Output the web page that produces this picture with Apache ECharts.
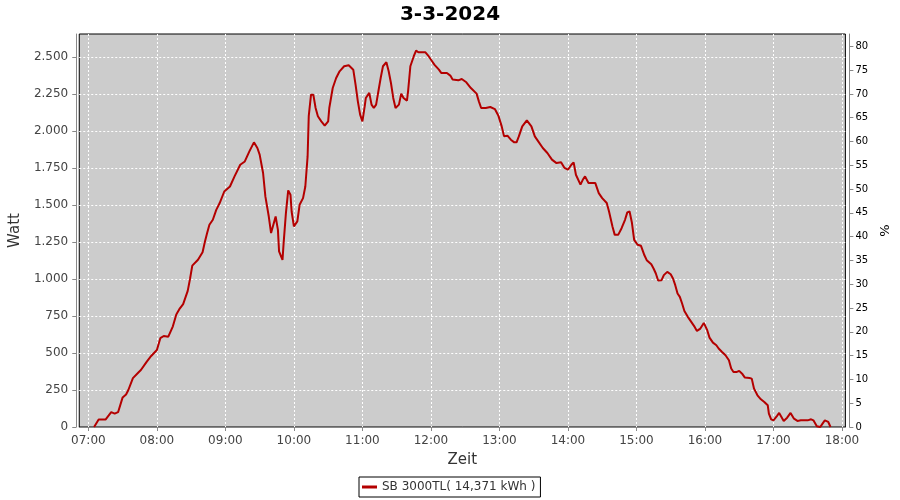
<!DOCTYPE html>
<html>
<head>
<meta charset="utf-8">
<script src="https://cdn.jsdelivr.net/npm/echarts@6/dist/echarts.min.js"></script>
<style>html,body{margin:0;padding:0;background:#fff}#c{width:900px;height:500px}</style>
</head>
<body>
<div id="c"></div>
<script>
const title = '3-3-2024';
const seriesName = 'SB 3000TL( 14,371 kWh )';
const xTickLabels = ['07:00','08:00','09:00','10:00','11:00','12:00','13:00','14:00','15:00','16:00','17:00','18:00'];
const leftTicks = [0,250,500,750,1000,1250,1500,1750,2000,2250,2500];
const rightTicks = [0,5,10,15,20,25,30,35,40,45,50,55,60,65,70,75,80];
const times = ['07:05','07:09','07:15','07:20','07:23','07:26','07:30','07:33','07:35','07:39','07:44','07:46','07:51','07:55','08:00','08:03','08:06','08:10','08:14','08:17','08:20','08:23','08:27','08:29','08:31','08:36','08:40','08:42','08:44','08:46','08:49','08:52','08:55','08:59','09:04','09:08','09:13','09:17','09:21','09:25','09:28','09:30','09:33','09:35','09:38','09:40','09:42','09:44','09:46','09:47','09:50','09:51','09:53','09:55','09:57','09:58','10:00','10:03','10:05','10:08','10:10','10:12','10:13','10:15','10:17','10:19','10:21','10:24','10:27','10:30','10:31','10:34','10:37','10:40','10:44','10:48','10:52','10:54','10:56','10:58','11:00','11:02','11:03','11:06','11:08','11:10','11:12','11:14','11:16','11:18','11:21','11:23','11:25','11:27','11:29','11:32','11:34','11:36','11:39','11:40','11:42','11:45','11:47','11:49','11:52','11:55','11:58','12:01','12:03','12:07','12:09','12:14','12:17','12:19','12:24','12:27','12:31','12:35','12:40','12:42','12:44','12:48','12:52','12:56','12:59','13:02','13:04','13:07','13:10','13:13','13:15','13:17','13:20','13:24','13:28','13:31','13:34','13:38','13:42','13:46','13:50','13:54','13:57','14:00','14:03','14:05','14:07','14:11','14:13','14:15','14:18','14:24','14:27','14:30','14:34','14:36','14:39','14:41','14:44','14:47','14:50','14:52','14:54','14:56','14:58','15:01','15:04','15:07','15:09','15:13','15:15','15:17','15:19','15:22','15:24','15:27','15:30','15:32','15:34','15:36','15:38','15:40','15:42','15:45','15:48','15:51','15:53','15:56','15:59','16:02','16:04','16:07','16:10','16:12','16:15','16:18','16:21','16:23','16:25','16:28','16:30','16:33','16:35','16:39','16:41','16:43','16:46','16:49','16:52','16:55','16:56','16:58','17:00','17:03','17:05','17:07','17:09','17:12','17:15','17:18','17:21','17:24','17:30','17:33','17:35','17:38','17:41','17:43','17:45','17:48','17:50'];
const watts = [0,50,50,100,90,100,200,220,250,330,370,385,440,480,520,600,615,610,680,760,800,830,920,1000,1090,1130,1180,1250,1310,1366,1400,1467,1513,1591,1625,1693,1772,1794,1862,1923,1885,1840,1716,1558,1422,1310,1366,1422,1332,1186,1129,1242,1445,1598,1569,1456,1355,1389,1501,1546,1625,1828,2100,2245,2245,2155,2099,2065,2036,2065,2155,2290,2358,2403,2437,2444,2414,2313,2200,2110,2065,2166,2223,2257,2178,2155,2178,2268,2358,2437,2464,2403,2324,2223,2155,2178,2252,2223,2205,2268,2437,2505,2543,2532,2532,2532,2505,2471,2448,2414,2392,2392,2374,2347,2342,2351,2329,2290,2252,2200,2155,2155,2162,2148,2105,2031,1965,1968,1941,1923,1923,1963,2031,2072,2031,1963,1930,1885,1851,1806,1783,1788,1750,1738,1772,1788,1704,1637,1670,1693,1648,1648,1580,1546,1513,1456,1355,1298,1298,1343,1400,1450,1456,1382,1264,1231,1224,1160,1127,1100,1071,1037,990,992,1026,1048,1032,1003,958,902,879,834,784,744,710,676,649,665,703,654,604,570,552,530,507,485,451,395,372,372,379,356,334,331,327,259,214,187,169,147,90,52,45,74,95,68,41,63,95,56,41,45,45,52,45,5,0,23,45,34,0];

const toMin = s => { const p = s.split(':'); return (+p[0]) * 60 + (+p[1]); };
const fmtTime = v => { const h = Math.floor(v / 60), m = Math.round(v % 60); return String(h).padStart(2,'0') + ':' + String(m).padStart(2,'0'); };
const fmtThousands = v => String(v).replace(/\B(?=(\d{3})+(?!\d))/g, '.');
const FONT = 'DejaVu Sans';

const chart = echarts.init(document.getElementById('c'), null, {renderer: 'canvas'});
chart.setOption({
  animation: false,
  backgroundColor: '#ffffff',
  textStyle: {fontFamily: FONT},
  title: {
    text: title, left: 'center', top: 0,
    textStyle: {fontFamily: FONT, fontSize: 20, fontWeight: 'bold', color: '#000'}
  },
  legend: {
    left: 359, top: 477,
    padding: [4, 5, 4, 3],
    borderColor: '#000', borderWidth: 1, borderRadius: 0,
    icon: 'rect', itemWidth: 15, itemHeight: 3, itemGap: 5,
    textStyle: {fontFamily: FONT, fontSize: 12, color: '#333'},
    data: [seriesName]
  },
  grid: {
    left: 79, right: 52, top: 34, bottom: 73,
    show: true, backgroundColor: '#cccccc', borderColor: '#000', borderWidth: 1
  },
  xAxis: {
    type: 'value', min: 412, max: 1083, offset: 4,
    name: 'Zeit', nameLocation: 'middle', nameGap: 22,
    nameTextStyle: {fontFamily: FONT, fontSize: 15, color: '#333'},
    axisLine: {show: true, lineStyle: {color: '#888', width: 1}},
    axisTick: {show: true, length: 4, lineStyle: {color: '#888'}, customValues: xTickLabels.map(toMin)},
    axisLabel: {customValues: xTickLabels.map(toMin), formatter: fmtTime, fontFamily: FONT, fontSize: 12, color: '#444', margin: 4},
    splitLine: {show: true, lineStyle: {color: '#ffffff', type: [2, 2], width: 1}}
  },
  yAxis: [
    {
      type: 'value', min: 0, max: 2655, offset: 3, position: 'left',
      name: 'Watt', nameLocation: 'middle', nameGap: 41, nameRotate: 90,
      nameTextStyle: {fontFamily: FONT, fontSize: 15, color: '#333'},
      axisLine: {show: true, lineStyle: {color: '#888', width: 1}},
      axisTick: {show: true, length: 4, lineStyle: {color: '#888'}, customValues: leftTicks},
      axisLabel: {customValues: leftTicks, formatter: fmtThousands, fontFamily: FONT, fontSize: 12, color: '#444', margin: 8},
      splitLine: {show: true, lineStyle: {color: '#ffffff', type: [2, 2], width: 1}}
    },
    {
      type: 'value', min: 0, max: 82.6, offset: 4, position: 'right',
      name: '%', nameLocation: 'middle', nameGap: 27, nameRotate: 90,
      nameTextStyle: {fontFamily: FONT, fontSize: 13, color: '#000'},
      axisLine: {show: true, lineStyle: {color: '#888', width: 1}},
      axisTick: {show: true, length: 4, lineStyle: {color: '#888'}, customValues: rightTicks},
      axisLabel: {customValues: rightTicks, fontFamily: FONT, fontSize: 10, color: '#000', margin: 6},
      splitLine: {show: false}
    }
  ],
  series: [{
    name: seriesName,
    type: 'line',
    yAxisIndex: 0,
    showSymbol: false,
    symbol: 'none',
    color: '#b40000',
    lineStyle: {color: '#b40000', width: 2},
    data: times.map((t, i) => [toMin(t), watts[i]])
  }]
});
</script>
</body>
</html>
